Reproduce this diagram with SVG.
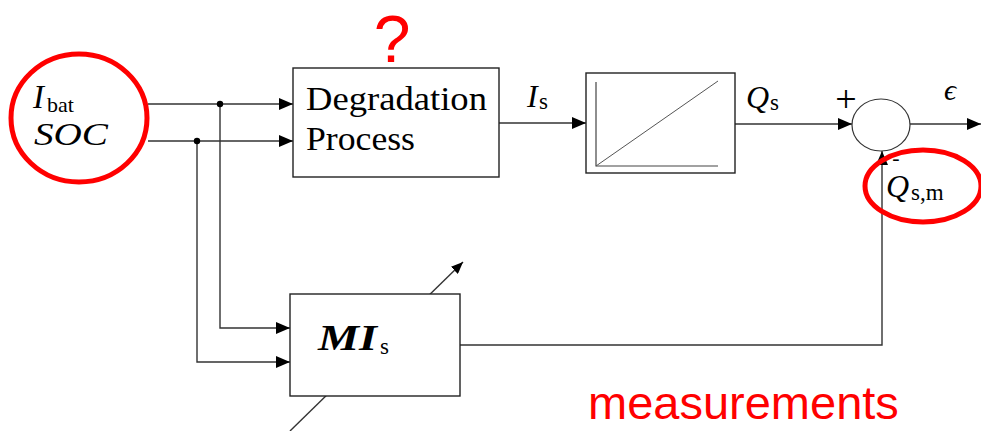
<svg xmlns="http://www.w3.org/2000/svg" width="981" height="431" viewBox="0 0 981 431">
<defs>
<marker id="arr" markerUnits="userSpaceOnUse" markerWidth="14" markerHeight="12" refX="14" refY="6" orient="auto">
<path d="M0,0 L14,6 L0,12 z" fill="#000"/>
</marker>
<marker id="arrs" markerUnits="userSpaceOnUse" markerWidth="12" markerHeight="10" refX="12" refY="5" orient="auto">
<path d="M0,0 L12,5 L0,10 z" fill="#000"/>
</marker>
</defs>
<style>
.ln{fill:none;stroke:#333;stroke-width:1.4}
.box{fill:#fff;stroke:#222;stroke-width:1.4}
.tx{font-family:"Liberation Serif","DejaVu Serif",serif;fill:#000}
.it{font-style:italic}
.red{fill:none;stroke:#f00;stroke-width:5}
.rt{font-family:"Liberation Sans",Arial,sans-serif;fill:#f00}
</style>
<rect width="981" height="431" fill="#fff"/>
<g id="connectors">
<path class="ln" d="M148,104 H293" marker-end="url(#arr)"/>
<path class="ln" d="M148,141 H293" marker-end="url(#arr)"/>
<path class="ln" d="M220,104 V328 H290" marker-end="url(#arr)"/>
<path class="ln" d="M197,141 V362 H290" marker-end="url(#arr)"/>
<circle cx="220" cy="104" r="3.2" fill="#000"/>
<circle cx="197" cy="141" r="3.2" fill="#000"/>
<path class="ln" d="M499,123 H586" marker-end="url(#arr)"/>
<path class="ln" d="M735,124 H852" marker-end="url(#arr)"/>
<path class="ln" d="M910,124 H981" marker-end="url(#arr)"/>
<path class="ln" d="M460,345 H882 V151" marker-end="url(#arr)"/>
<path class="ln" d="M290,431 L463,262" stroke="#555" marker-end="url(#arrs)"/>
</g>
<g id="inputs">
<ellipse class="red" cx="79" cy="118" rx="68" ry="64"/>
<text class="tx it" x="33" y="108" font-size="33">I</text>
<text class="tx" x="47" y="112" font-size="22">bat</text>
<text class="tx it" x="34" y="145" font-size="31" textLength="74" lengthAdjust="spacingAndGlyphs">SOC</text>
</g>
<g id="degradation">
<rect class="box" x="293" y="68" width="206" height="109"/>
<text class="tx" x="306" y="110" font-size="33" textLength="181" lengthAdjust="spacingAndGlyphs">Degradation</text>
<text class="tx" x="306" y="150" font-size="33" textLength="109" lengthAdjust="spacingAndGlyphs">Process</text>
<text class="rt" x="392" y="62" font-size="66" text-anchor="middle">?</text>
</g>
<text class="tx it" x="527" y="107" font-size="32">I</text>
<text class="tx" x="539" y="109" font-size="23">s</text>
<g id="integrator">
<rect class="box" x="586" y="73" width="149" height="100"/>
<path d="M596,82 V166 H718" fill="none" stroke="#444" stroke-width="1.2"/>
<path d="M596,166 L718,81" fill="none" stroke="#555" stroke-width="1"/>
</g>
<text class="tx it" x="746" y="108" font-size="32">Q</text>
<text class="tx" x="770" y="110" font-size="23">s</text>
<g id="sum">
<ellipse cx="881" cy="125" rx="29" ry="26" fill="#fff" stroke="#333" stroke-width="1.2"/>
<text class="tx" x="846" y="112" font-size="38" text-anchor="middle">+</text>
<text class="tx" x="896" y="165" font-size="22" text-anchor="middle">-</text>
</g>
<text class="tx it" x="944" y="100" font-size="30">ϵ</text>
<g id="measurement">
<ellipse class="red" cx="923" cy="186" rx="58" ry="36"/>
<text class="tx it" x="886" y="197" font-size="32">Q</text>
<text class="tx" x="911" y="200" font-size="23">s,m</text>
</g>
<g id="mis">
<rect class="box" x="290" y="294" width="170" height="102"/>
<text class="tx it" x="318" y="350" font-size="35" font-weight="bold" textLength="59" lengthAdjust="spacingAndGlyphs">MI</text>
<text class="tx" x="380" y="354" font-size="23">s</text>
</g>
<text class="rt" x="588" y="419" font-size="47">measurements</text>
</svg>
